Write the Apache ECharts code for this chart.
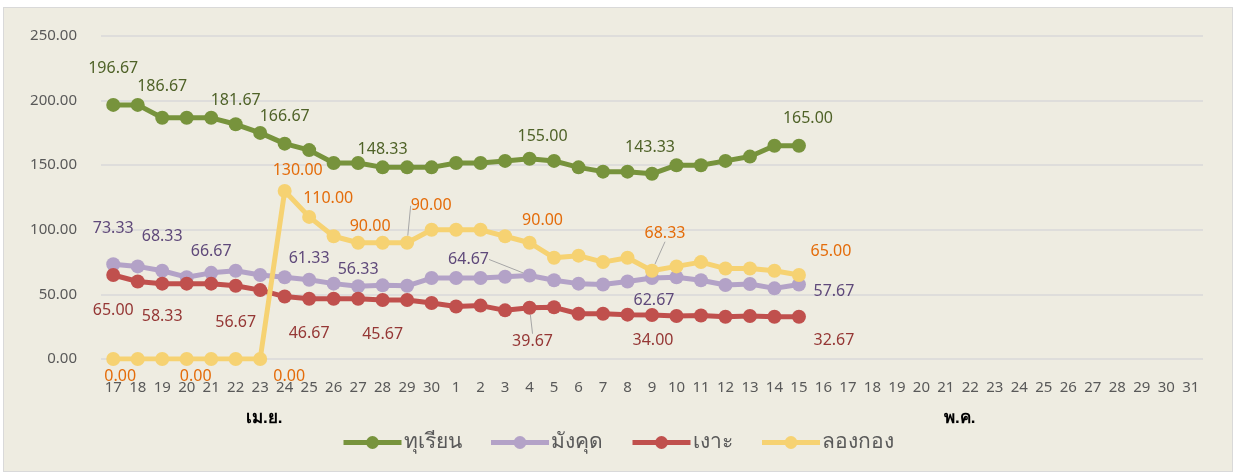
<!DOCTYPE html>
<html>
<head>
<meta charset="utf-8">
<script src="https://cdn.jsdelivr.net/npm/echarts@6/dist/echarts.min.js"></script>
<style>
  body { margin: 0; background: #ffffff; }
  #frame { position: absolute; left: 3px; top: 7px; width: 1228px; height: 463px;
           background: #EEECE1; border: 1px solid #D9D9D9; }
  #chart { position: absolute; left: 0; top: 0; width: 1235px; height: 474px; }
</style>
</head>
<body>
<div id="frame"></div>
<div id="chart"></div>
<script>
// วันที่ (เม.ย. 17-30, พ.ค. 1-31)
var days = ['17', '18', '19', '20', '21', '22', '23', '24', '25', '26', '27', '28', '29', '30',
    '1', '2', '3', '4', '5', '6', '7', '8', '9', '10', '11', '12', '13', '14', '15', '16',
    '17', '18', '19', '20', '21', '22', '23', '24', '25', '26', '27', '28', '29', '30', '31'];

var names = ['ทุเรียน', 'มังคุด', 'เงาะ', 'ลองกอง'];
var monthNames = ['เม.ย.', 'พ.ค.'];

var durian = [196.67, 196.67, 186.67, 186.67, 186.67, 181.67, 175.00, 166.67, 161.67, 151.67,
    151.67, 148.33, 148.33, 148.33, 151.67, 151.67, 153.33, 155.00, 153.33, 148.33,
    145.00, 145.00, 143.33, 150.00, 150.00, 153.33, 156.67, 165.00, 165.00];
var mangosteen = [73.33, 71.67, 68.33, 63.33, 66.67, 68.33, 65.00, 63.33, 61.33, 58.33,
    56.33, 57.00, 56.67, 62.67, 62.67, 62.67, 63.67, 64.67, 61.00, 58.33,
    57.67, 60.00, 62.67, 63.33, 61.00, 57.33, 58.00, 54.67, 57.67];
var rambutan = [65.00, 60.00, 58.33, 58.33, 58.33, 56.67, 53.33, 48.33, 46.67, 46.67,
    46.67, 45.67, 45.67, 43.33, 40.67, 41.33, 37.67, 39.67, 40.00, 35.00,
    35.00, 34.33, 34.00, 33.33, 33.67, 32.67, 33.33, 32.67, 32.67];
var longkong = [0, 0, 0, 0, 0, 0, 0, 130.00, 110.00, 95.00,
    90.00, 90.00, 90.00, 100.00, 100.00, 100.00, 95.00, 90.00, 78.33, 80.00,
    75.00, 78.33, 68.33, 71.67, 75.00, 70.00, 70.00, 68.33, 65.00];

// ป้ายตัวเลขที่แสดง: index -> [dx, dy] จากจุด
var labelPos = [
    {0: [0, -36], 2: [0, -31], 5: [0, -24], 7: [0, -27], 11: [0, -18], 17: [13, -22], 22: [-2, -26], 28: [9, -27]},
    {0: [0, -36], 2: [0, -34], 4: [0, -21], 8: [0, -21], 10: [0, -17], 17: [-61, -16], 22: [2, 22], 28: [35, 7]},
    {0: [0, 35], 2: [0, 33], 5: [0, 37], 8: [0, 35], 11: [0, 34], 17: [3, 34], 22: [1, 25], 28: [35, 24]},
    {0: [7, 17], 3: [9, 17], 6: [29, 17], 7: [13, -21], 8: [19, -18], 10: [12, -16], 12: [24, -37], 17: [13, -22], 22: [13, -37], 28: [32, -24]}
];
var leaders = [[], [17], [17], [12, 22]];

var colors = ['#77933C', '#B3A2C7', '#C0504D', '#F6D272'];
var labelColors = ['#4F6228', '#5F497A', '#953735', '#E46C0A'];

function makeSeries(k, values) {
    var pos = labelPos[k];
    var data = values.map(function(v, i) {
        if (pos[i]) {
            return {
                value: v,
                label: { show: true },
                labelLine: { show: leaders[k].indexOf(i) >= 0 }
            };
        }
        return v;
    });
    return {
        name: names[k],
        type: 'line',
        data: data,
        symbol: 'circle',
        symbolSize: 14,
        color: colors[k],
        lineStyle: { width: 5, color: colors[k] },
        itemStyle: { color: colors[k] },
        label: {
            show: false,
            position: 'inside',
            color: labelColors[k],
            fontSize: 16,
            fontFamily: 'Noto Sans',
            formatter: function(p) { return Number(p.value).toFixed(2); }
        },
        labelLine: {
            show: false,
            lineStyle: { color: '#A6A6A6', width: 1 }
        },
        labelLayout: function(p) {
            var o = pos[p.dataIndex];
            if (!o) return {};
            return { dx: o[0], dy: o[1] };
        },
        emphasis: { disabled: true },
        animation: false
    };
}

var chart = echarts.init(document.getElementById('chart'));
var option = {
    backgroundColor: 'transparent',
    animation: false,
    textStyle: { fontFamily: 'Noto Sans, Tahoma, sans-serif' },
    grid: { left: 101, right: 32, top: 36, bottom: 115 },
    xAxis: {
        type: 'category',
        data: days,
        boundaryGap: true,
        axisLine: { show: false },
        axisTick: { show: false },
        axisLabel: { interval: 0, margin: 21, fontSize: 15, color: '#595959' }
    },
    yAxis: {
        type: 'value',
        min: 0,
        max: 250,
        interval: 50,
        axisLine: { show: false },
        axisTick: { show: false },
        axisLabel: {
            margin: 24, fontSize: 15, color: '#595959',
            formatter: function(v) { return v.toFixed(2); }
        },
        splitLine: { lineStyle: { color: '#D9D9D9', width: 1.5 } }
    },
    legend: {
        data: names,
        bottom: 16,
        left: 'center',
        itemWidth: 58,
        itemHeight: 16,
        itemGap: 27,
        lineStyle: { width: 5 },
        textStyle: { fontSize: 21, color: '#595959', padding: [0, 0, 0, -3] }
    },
    graphic: [
        { type: 'text', left: 246, top: 410, style: { text: monthNames[0], fontSize: 17, fontWeight: 'bold', fill: '#000000' } },
        { type: 'text', left: 944, top: 410, style: { text: monthNames[1], fontSize: 17, fontWeight: 'bold', fill: '#000000' } }
    ],
    series: [
        makeSeries(0, durian),
        makeSeries(1, mangosteen),
        makeSeries(2, rambutan),
        makeSeries(3, longkong)
    ]
};
chart.setOption(option);
</script>
</body>
</html>
